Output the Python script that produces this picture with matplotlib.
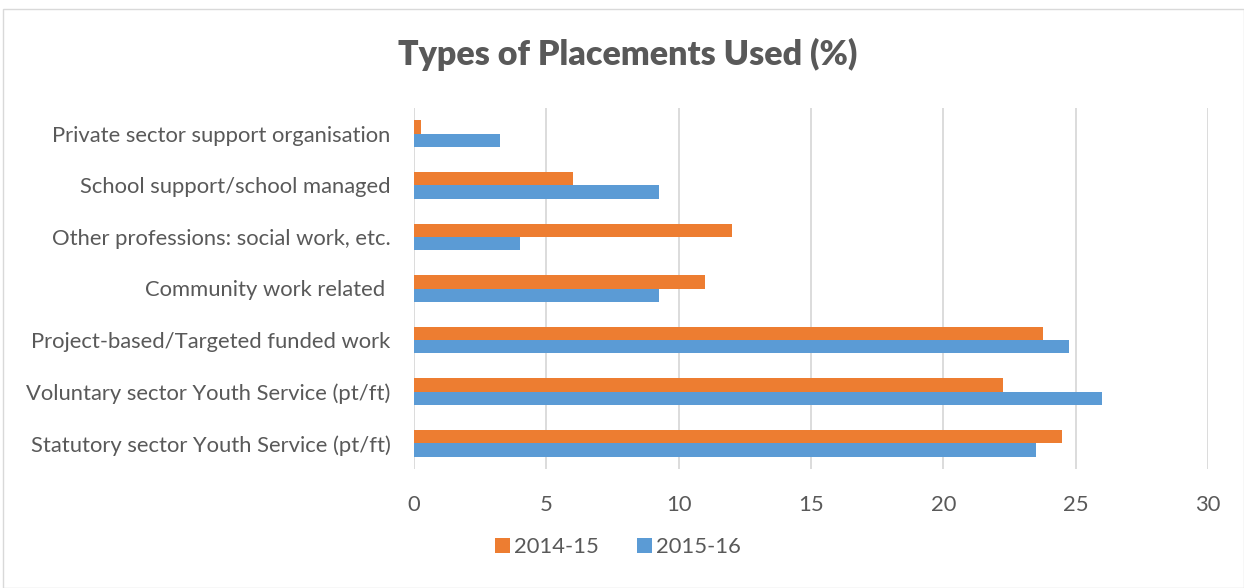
import numpy as np
import matplotlib.pyplot as plt
from matplotlib.patches import Rectangle

categories = ['Statutory sector Youth Service (pt/ft)',
              'Voluntary sector Youth Service (pt/ft)',
              'Project-based/Targeted funded work',
              'Community work related ',
              'Other professions: social work, etc.',
              'School support/school managed',
              'Private sector support organisation']
y2014 = [24.5, 22.25, 23.75, 11.0, 12.0, 6.0, 0.25]
y2015 = [23.5, 26.0, 24.75, 9.25, 4.0, 9.25, 3.25]
series_names = ['2014-15', '2015-16']

orange = '#ED7D31'
blue = '#5B9BD5'
txt = '#595959'

plt.rcParams['font.family'] = ['Lato', 'DejaVu Sans']

fig = plt.figure(figsize=(12.44, 5.88), dpi=100)
fig.patches.append(Rectangle((3/1244, 0), 1 - 3/1244, 1 - 9/588, transform=fig.transFigure,
                             fill=False, edgecolor='#D9D9D9', lw=1))
ax = fig.add_axes([414/1244, 1 - 469/588, (1208 - 414)/1244, (469 - 108)/588])

y = np.arange(len(categories))
h = 0.26
ax.barh(y + h/2, y2014, height=h, color=orange, label=series_names[0], zorder=3)
ax.barh(y - h/2, y2015, height=h, color=blue, label=series_names[1], zorder=3)

ax.set_xlim(0, 30)
ax.set_ylim(-0.5, len(categories) - 0.5)
ax.set_xticks(range(0, 31, 5))
ax.set_yticks(y)
ax.set_yticklabels(categories)
ax.grid(axis='x', color='#D9D9D9', lw=1.3, zorder=0)
for s in ax.spines.values():
    s.set_visible(False)
ax.tick_params(axis='both', length=0, labelsize=15.8, colors=txt)
ax.tick_params(axis='y', pad=17)
ax.tick_params(axis='x', pad=19)

fig.text(628/1244, 1 - 54/588, 'Types of Placements Used (%)', ha='center', va='center',
         fontsize=24.5, fontweight='heavy', color=txt)

handles, labels = ax.get_legend_handles_labels()
fig.legend(handles, labels, loc='center', bbox_to_anchor=(618/1244, 1 - 547/588), ncol=2,
           frameon=False, fontsize=15.8, labelcolor=txt, handlelength=0.7, handleheight=0.7,
           columnspacing=1.7, handletextpad=0.2)

fig.savefig('out.png', dpi=100)
